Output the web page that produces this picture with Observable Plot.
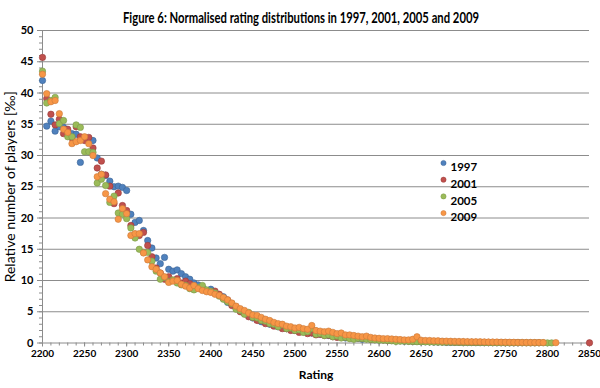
<!DOCTYPE html>
<html>
<head>
<meta charset="utf-8">
<script src="https://cdn.jsdelivr.net/npm/d3@7"></script>
<script src="https://cdn.jsdelivr.net/npm/@observablehq/plot@0.6"></script>
<style>
  html, body { margin: 0; padding: 0; background: #fff; }
  #chart { width: 600px; height: 388px; }
</style>
</head>
<body>
<div id="chart"></div>
<script>
const title = "Figure 6: Normalised rating distributions in 1997, 2001, 2005 and 2009";
const xLabel = "Rating";
const yLabel = "Relative number of players [‰]";
const seriesNames = ["1997", "2001", "2005", "2009"];
const seriesColors = ["#4f81bd", "#c0504d", "#9bbb59", "#f79646"];
const seriesStrokes = ["#3a6396", "#983b39", "#7a9847", "#c9793a"];
const xTicks = [2200, 2250, 2300, 2350, 2400, 2450, 2500, 2550, 2600, 2650, 2700, 2750, 2800, 2850];
const yTicks = [0, 5, 10, 15, 20, 25, 30, 35, 40, 45, 50];

const ratings = [
  2200,2205,2210,2215,2220,2225,2230,2235,2240,2245,2250,2255,2260,2265,2270,2275,2280,2285,2290,2295,
  2300,2305,2310,2315,2320,2325,2330,2335,2340,2345,2350,2355,2360,2365,2370,2375,2380,2385,2390,2395,
  2400,2405,2410,2415,2420,2425,2430,2435,2440,2445,2450,2455,2460,2465,2470,2475,2480,2485,2490,2495,
  2500,2505,2510,2515,2520,2525,2530,2535,2540,2545,2550,2555,2560,2565,2570,2575,2580,2585,2590,2595,
  2600,2605,2610,2615,2620,2625,2630,2635,2640,2645,2650,2655,2660,2665,2670,2675,2680,2685,2690,2695,
  2700,2705,2710,2715,2720,2725,2730,2735,2740,2745,2750,2755,2760,2765,2770,2775,2780,2785,2790,2795,
  2800,2805,2810,2815,2820,2825,2830,2835,2840,2845,2850
];

const v1997 = [
  42.0,34.7,35.5,33.9,34.6,34.5,33.8,33.5,33.4,28.9,32.5,32.7,32.4,29.6,27.0,26.8,25.9,25.0,25.1,24.9,
  24.4,20.6,19.3,19.6,18.0,16.4,15.2,13.6,12.7,13.7,11.8,11.5,11.7,11.1,10.6,10.2,9.6,9.3,8.9,8.4,
  8.6,8.0,7.6,7.4,6.5,6.2,5.6,5.3,4.8,4.6,4.0,3.9,3.4,3.5,3.0,3.1,2.6,2.7,2.3,2.4,
  2.0,2.1,1.8,1.9,1.6,1.9,1.4,1.5,1.2,1.3,1.0,1.1,0.8,0.9,0.8,0.75,0.6,0.7,0.6,0.55,
  0.5,0.5,0.45,0.4,0.4,0.35,0.3,0.3,0.25,0.25,0.2,0.2,0.2,0.15,0.15,0.15,0.1,0.1,0.1,0.1,
  0.1,0.08,0.08,0.06,0.06,0.05,0.05,0.05,0.04,0.04,0.04,0.03,0.03,0.03,null,null,null,null,null,null,
  null,null,null,null,null,null,null,null,null,null,null
];
const v2001 = [
  45.7,39.1,36.6,34.9,35.8,33.5,34.2,32.8,34.6,33.0,32.4,32.9,31.2,28.0,29.1,26.9,25.1,22.3,24.0,22.0,
  21.2,18.8,17.4,17.2,17.7,15.6,13.8,12.0,11.2,10.2,10.6,10.0,10.3,9.6,9.9,9.5,9.0,8.8,8.6,8.4,
  8.2,8.3,7.8,7.1,6.9,6.0,5.8,5.0,4.7,4.2,4.1,3.6,3.6,3.1,3.1,2.7,2.7,2.3,2.3,2.0,
  2.0,1.7,1.8,1.5,1.6,1.3,1.4,1.2,1.25,1.0,0.9,1.0,0.95,0.8,0.85,0.8,0.75,0.7,0.6,0.55,
  0.55,0.5,0.45,0.42,0.4,0.38,0.35,0.32,0.3,0.28,0.26,0.24,0.22,0.2,0.19,0.18,0.16,0.15,0.14,0.13,
  0.12,0.11,0.1,0.1,0.09,0.08,0.08,0.07,0.07,0.06,0.06,0.05,0.05,0.04,0.04,0.04,0.03,0.03,0.03,null,
  null,null,null,null,null,null,null,null,null,null,0.03
];
const v2005 = [
  43.5,38.4,38.8,39.3,35.1,35.6,33.0,33.0,34.9,34.5,30.6,30.6,30.5,25.6,26.2,25.2,22.5,23.5,20.8,20.6,
  19.9,18.4,16.8,15.0,14.5,14.5,13.1,11.5,10.2,10.5,9.8,10.1,9.6,9.3,9.2,8.7,8.5,8.9,9.2,8.5,
  8.3,8.0,7.5,7.0,6.6,6.3,5.4,5.2,4.6,4.9,4.1,4.0,3.6,3.5,3.1,3.0,2.6,2.9,2.3,2.4,
  2.0,2.1,1.7,1.8,2.3,1.4,1.5,1.2,1.3,1.0,1.1,0.8,0.9,0.7,0.6,0.75,0.7,0.6,0.55,0.5,
  0.45,0.45,0.4,0.35,0.25,0.3,0.3,0.25,0.25,0.2,0.2,0.18,0.16,0.15,0.14,0.13,0.12,0.11,0.1,0.1,
  0.09,0.08,0.08,0.07,0.07,0.06,0.06,0.05,0.05,0.05,0.04,0.04,0.04,0.04,0.03,0.03,0.03,0.03,0.03,0.03,
  0.02,0.02,null,null,null,null,null,null,null,null,null
];
const v2009 = [
  43.0,39.9,38.6,38.8,36.7,34.2,33.7,31.9,32.2,32.4,33.0,31.9,30.0,26.6,27.0,23.9,23.0,22.6,19.8,21.5,
  20.7,17.2,17.5,17.5,14.4,13.3,12.2,11.8,11.2,10.6,9.7,9.9,10.0,9.4,9.1,8.8,9.2,8.7,8.4,8.2,
  8.1,7.8,7.6,7.3,6.9,6.4,5.9,5.5,5.2,4.8,4.5,4.4,4.1,3.8,3.6,3.3,3.1,3.0,2.7,2.6,
  2.4,2.5,2.3,2.2,2.8,2.0,1.9,1.8,1.9,1.7,1.5,1.6,1.3,1.3,1.2,1.1,1.0,1.1,0.9,0.8,
  0.75,0.7,0.7,0.65,0.6,0.55,0.5,0.5,0.6,1.0,0.45,0.4,0.4,0.35,0.35,0.3,0.3,0.28,0.26,0.25,
  0.24,0.22,0.2,0.2,0.19,0.18,0.16,0.15,0.15,0.14,0.13,0.12,0.11,0.1,0.1,0.09,0.09,0.08,0.08,0.07,
  null,null,0.06,null,null,null,null,null,null,null,null
];

const seriesValues = [v1997, v2001, v2005, v2009];
const font = "Lato, 'Open Sans', sans-serif";

const marks = [
  Plot.gridY(yTicks.filter(d => d > 0), {stroke: "#8c8c8c", strokeOpacity: 1}),
  Plot.axisY(d3.range(0, 51, 1), {tickSize: 3, tickFormat: () => "", stroke: "#8c8c8c", label: null}),
  Plot.axisY(yTicks, {tickSize: 5, tickPadding: 4, stroke: "#8c8c8c", fontSize: 11, fontWeight: "bold", fill: "#000", label: null}),
  Plot.axisX(d3.range(2200, 2851, 10), {tickSize: 3, tickFormat: () => "", stroke: "#8c8c8c", label: null}),
  Plot.axisX(xTicks, {tickSize: 4, tickPadding: 3, tickFormat: d => String(d), stroke: "#8c8c8c", fontSize: 10, fontWeight: "bold", fill: "#000", label: null}),
  Plot.ruleY([0], {stroke: "#8c8c8c"}),
  Plot.ruleX([2200], {stroke: "#8c8c8c"})
];

seriesNames.forEach((name, s) => {
  const pts = [];
  ratings.forEach((r, i) => {
    const v = seriesValues[s][i];
    if (v !== null && v !== undefined) pts.push({rating: r, value: v});
  });
  marks.push(Plot.dot(pts, {x: "rating", y: "value", r: 3.2, fill: seriesColors[s], stroke: seriesStrokes[s], strokeWidth: 0.6}));
});

// legend
seriesNames.forEach((name, s) => {
  marks.push(Plot.dot([name], {frameAnchor: "top-left", dx: 401, dy: 132.5 + s * 16.7, r: 2.6, fill: seriesColors[s], stroke: seriesStrokes[s], strokeWidth: 0.5}));
  marks.push(Plot.text([name], {frameAnchor: "top-left", dx: 408, dy: 132.5 + s * 16.7, textAnchor: "start", fontSize: 11.5, fontWeight: "bold", fill: "#000"}));
});

marks.push(Plot.text([title], {frameAnchor: "top", dx: -15, dy: -18, fontSize: 14.5, fontWeight: "bold", fill: "#000"}));
marks.push(Plot.text([xLabel], {frameAnchor: "bottom", dy: 36, fontSize: 12, fontWeight: "bold", fill: "#000"}));
marks.push(Plot.text([yLabel], {frameAnchor: "left", dx: -32, rotate: -90, textAnchor: "middle", fontSize: 14, fill: "#000"}));

const chart = Plot.plot({
  width: 600,
  height: 388,
  marginTop: 30,
  marginLeft: 42,
  marginRight: 11,
  marginBottom: 45.5,
  style: {fontFamily: font, background: "#fff", overflow: "visible"},
  x: {domain: [2200, 2850]},
  y: {domain: [0, 50]},
  marks
});
document.getElementById("chart").appendChild(chart);

// squeeze the title to the reference's narrow (Calibri-like) width
chart.querySelectorAll("text").forEach(t => {
  if (t.textContent === title) {
    t.setAttribute("textLength", 356);
    t.setAttribute("lengthAdjust", "spacingAndGlyphs");
  }
});
</script>
</body>
</html>
